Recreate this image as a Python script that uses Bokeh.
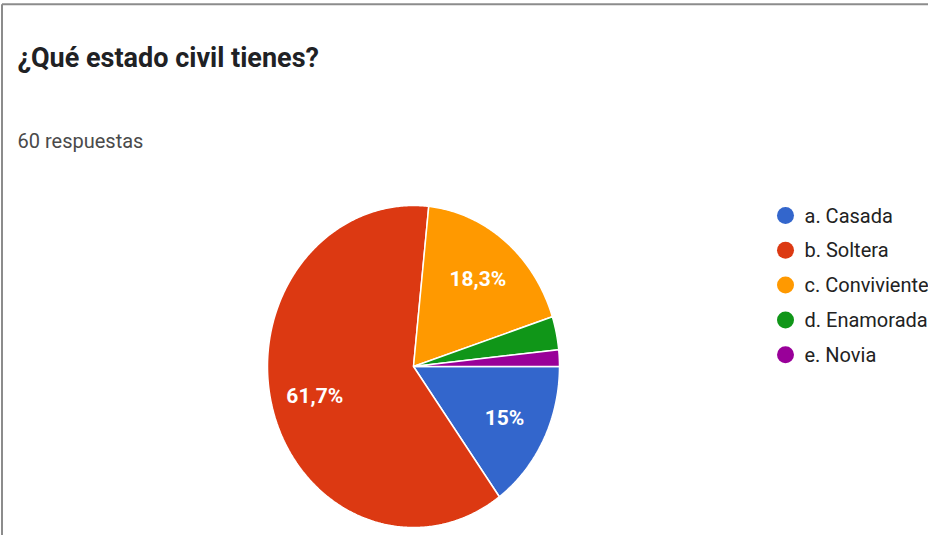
import numpy as np
from bokeh.plotting import figure
from bokeh.models import Range1d
from bokeh.core.properties import value
from bokeh.embed import file_html
from bokeh.resources import INLINE

# ---- data ----
title = "¿Qué estado civil tienes?"
subtitle = "60 respuestas"
categories = ["a. Casada", "b. Soltera", "c. Conviviente", "d. Enamorada", "e. Novia"]
counts = [9, 37, 11, 2, 1]
colors = ["#3366cc", "#dc3912", "#ff9900", "#109618", "#990099"]

W, H = 928, 535
p = figure(width=W, height=H, output_backend="svg", toolbar_location=None,
           x_range=Range1d(0, W), y_range=Range1d(H, 0), min_border=0)
p.axis.visible = False
p.grid.visible = False
p.outline_line_color = None
p.background_fill_color = "white"
p.border_fill_color = "white"

# frame border (left and top visible)
p.segment(x0=[1.5, 1.5], y0=[3.7, 3.7], x1=[1.5, 2000], y1=[2000, 3.7],
          line_color="#8c8c8c", line_width=2)

FONT = value("Roboto")
p.text(x=[17], y=[57], text=[title], text_font=FONT, text_font_size="27px",
       text_font_style="bold", text_color="#202124", text_baseline="alphabetic")
p.text(x=[17], y=[140], text=[subtitle], text_font=FONT, text_font_size="20px",
       text_color="#4a4a4a", text_baseline="alphabetic")

# ---- pie (ellipse as in the reference) ----
cx, cy, rx, ry = 413, 366, 146, 161
total = sum(counts)
fracs = np.array(counts) / total
ends = np.cumsum(fracs) * 2 * np.pi
starts = ends - fracs * 2 * np.pi
xs, ys = [], []
for a0, a1 in zip(starts, ends):
    t = np.linspace(a0, a1, max(int((a1 - a0) / 0.01), 4))
    xs.append(list(np.r_[cx, cx + rx * np.cos(t), cx]))
    ys.append(list(np.r_[cy, cy + ry * np.sin(t), cy]))
p.patches(xs=xs, ys=ys, fill_color=colors, line_color="white", line_width=1.5)

# slice labels
lx, ly, lt = [], [], []
for f, a0, a1 in zip(fracs, starts, ends):
    if f < 0.05:
        continue
    m = (a0 + a1) / 2
    lx.append(cx + rx * 0.7 * np.cos(m))
    ly.append(cy + ry * 0.7 * np.sin(m))
    s = f"{f*100:.1f}".rstrip("0").rstrip(".").replace(".", ",")
    lt.append(s + "%")
p.text(x=lx, y=ly, text=lt, text_font=FONT, text_font_size="21px",
       text_font_style="bold", text_color="white", text_align="center",
       text_baseline="middle")

# ---- legend ----
ly0, dy = 215, 34.8
leg_y = [ly0 + i * dy for i in range(len(categories))]
p.scatter(x=[785] * len(categories), y=leg_y, size=17, marker="circle",
          fill_color=colors, line_color=None)
p.text(x=[804] * len(categories), y=leg_y, text=categories, text_font=FONT,
       text_font_size="20px", text_color="#222222", text_baseline="middle")

open("out.html", "w").write(file_html(p, INLINE))
